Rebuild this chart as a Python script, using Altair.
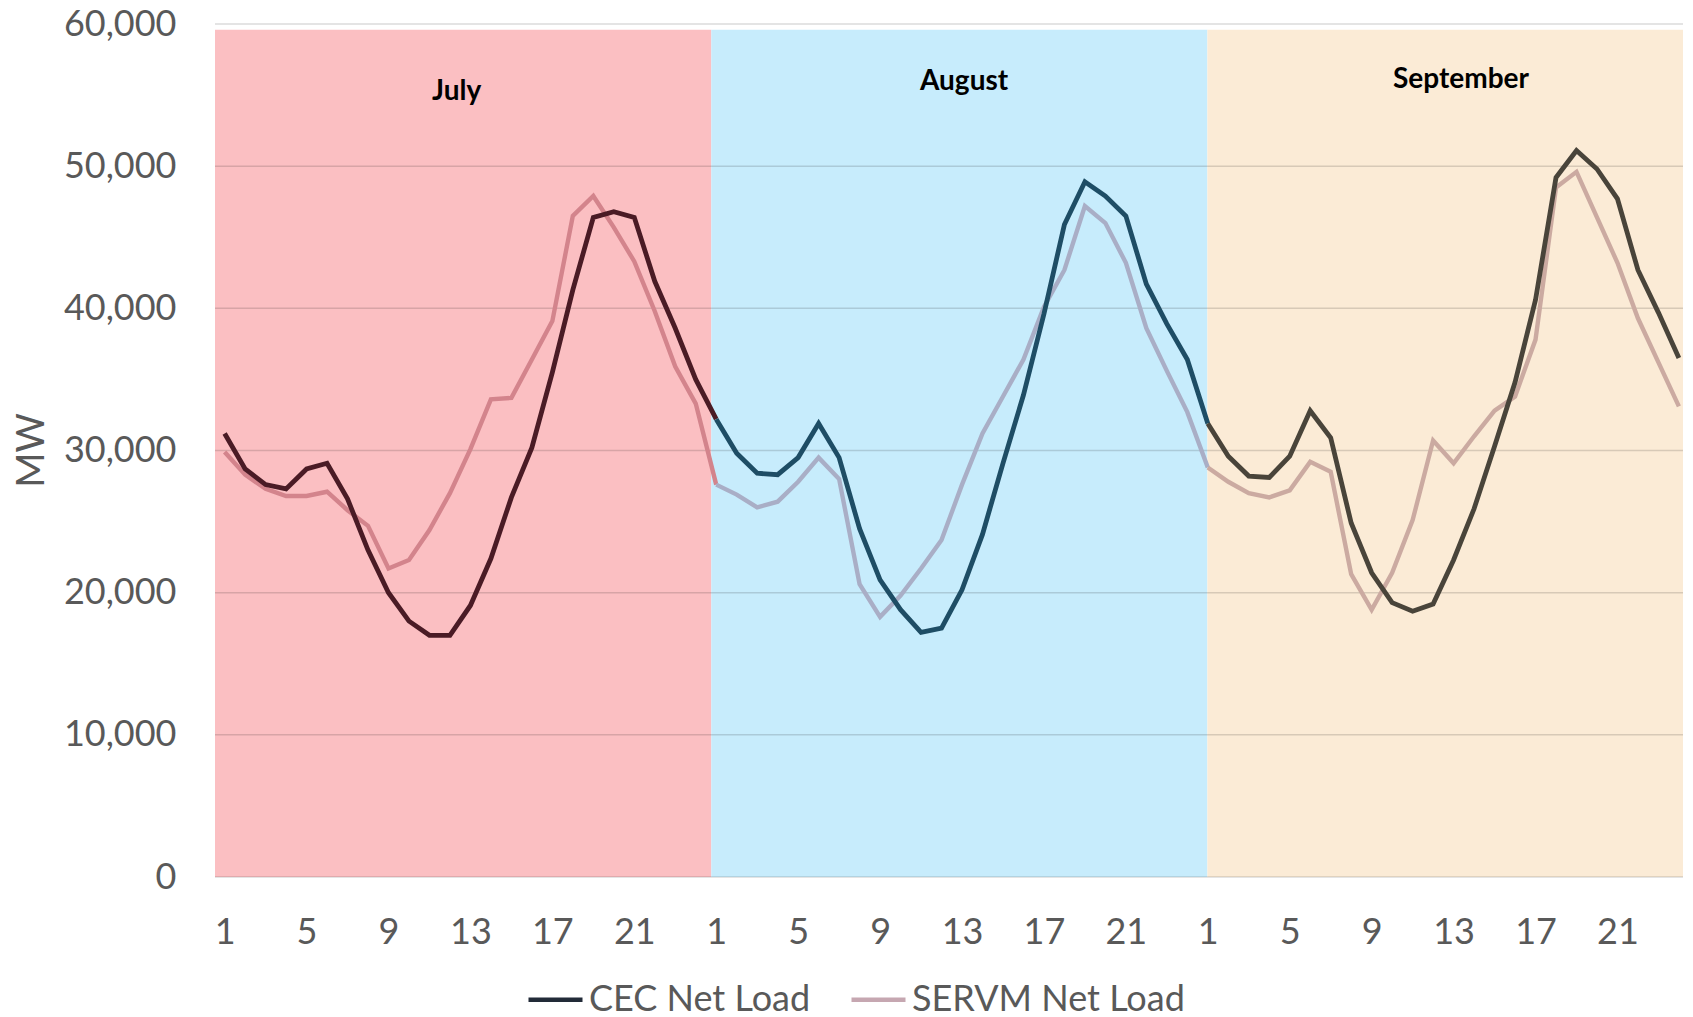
import altair as alt
import pandas as pd

# ---------------- data ----------------
months = ["July", "August", "September"]

cec_july = [31200, 28700, 27600, 27300, 28700, 29100, 26600, 23000, 20000, 18000, 17000, 17000,
            19100, 22400, 26700, 30200, 35500, 41300, 46400, 46800, 46400, 41900, 38600, 35000]
cec_aug = [32200, 29800, 28400, 28300, 29500, 31900, 29500, 24500, 20900, 18800, 17200, 17500,
           20200, 24100, 29100, 33900, 39600, 45900, 48900, 47900, 46500, 41700, 38900, 36400]
cec_sep = [31900, 29600, 28200, 28100, 29600, 32800, 30900, 24900, 21400, 19300, 18700, 19200,
           22300, 25900, 30300, 34800, 40600, 49200, 51100, 49800, 47700, 42700, 39700, 36500]

servm_july = [29900, 28300, 27300, 26800, 26800, 27100, 25800, 24700, 21700, 22300, 24400, 27000,
              30100, 33600, 33700, 36400, 39100, 46500, 47900, 45700, 43300, 39800, 35900, 33300]
servm_aug = [27600, 26900, 26000, 26400, 27800, 29500, 28000, 20600, 18300, 19800, 21700, 23700,
             27600, 31200, 33800, 36400, 40100, 42700, 47200, 46000, 43200, 38600, 35600, 32700]
servm_sep = [28800, 27800, 27000, 26700, 27200, 29200, 28500, 21300, 18800, 21400, 25100, 30700,
             29100, 31000, 32800, 33800, 37800, 48500, 49600, 46400, 43200, 39300, 36200, 33100]

series_names = ["CEC Net Load", "SERVM Net Load"]

# background month bands (x in hour-index units, y in MW)
band_edges = [-0.47, 23.76, 47.98, 72.2]
band_top = 59600
band_colors = ["#fbbfc2", "#c7ecfc", "#fbebd6"]

cec_colors = ["#4a1b25", "#1e4d65", "#49443a"]
servm_colors = ["#d3848c", "#a9aec6", "#cbaaa1"]
legend_colors = ["#222b38", "#c6a7b1"]

month_label_x = [11.33, 36.1, 60.36]
month_label_y = [55200, 55890, 56040]

y_ticks = [0, 10000, 20000, 30000, 40000, 50000, 60000]
x_ticks = list(range(0, 72, 4))

FONT = "Lato"
GREY = "#595959"

# ---------------- build tables ----------------
series_data = {
    "CEC Net Load": [cec_july, cec_aug, cec_sep],
    "SERVM Net Load": [servm_july, servm_aug, servm_sep],
}

rows = []
for s in series_names:
    vals = series_data[s]
    for m_idx, m in enumerate(months):
        key = f"{s} | {m}"
        for h, v in enumerate(vals[m_idx]):
            rows.append({"i": m_idx * 24 + h, "v": v, "key": key, "series": s})
        if m_idx < len(months) - 1:
            rows.append({"i": (m_idx + 1) * 24, "v": vals[m_idx + 1][0], "key": key, "series": s})
lines_df = pd.DataFrame(rows)

line_keys = [f"{s} | {m}" for s in series_names for m in months]
line_colors = cec_colors + servm_colors

bands_df = pd.DataFrame({
    "month": months,
    "x0": band_edges[:-1],
    "x1": band_edges[1:],
    "y0": [0] * 3,
    "y1": [band_top] * 3,
})

labels_df = pd.DataFrame({"month": months, "x": month_label_x, "y": month_label_y})
grid_df = pd.DataFrame({"y": y_ticks})
legend_df = pd.DataFrame({"series": series_names})

# ---------------- scales / axes ----------------
x_scale = alt.Scale(domain=[-0.47, 71.2], nice=False, zero=False)
y_scale = alt.Scale(domain=[0, 60000], nice=False)

x_axis = alt.Axis(values=x_ticks, labelExpr="'' + ((datum.value % 24) + 1)", domain=False,
                  ticks=False, grid=False, labelFontSize=36, labelFont=FONT, labelColor=GREY,
                  labelPadding=38, title=None, labelFlush=False)
y_axis = alt.Axis(values=y_ticks, format=",d", domain=False, ticks=False, grid=False,
                  labelFontSize=36, labelFont=FONT, labelColor=GREY, labelPadding=39,
                  title="MW", titleFontSize=38, titleFont=FONT, titleFontWeight="normal",
                  titleColor=GREY, titleX=-183, titleY=426, titleAlign="center",
                  titleBaseline="middle")

bands = alt.Chart(bands_df).mark_rect(clip=True).encode(
    x=alt.X("x0:Q", scale=x_scale, axis=x_axis),
    x2="x1:Q",
    y=alt.Y("y0:Q", scale=y_scale, axis=y_axis),
    y2="y1:Q",
    color=alt.Color("month:N", scale=alt.Scale(domain=months, range=band_colors), legend=None),
)

grid = alt.Chart(grid_df).mark_rule(color="black", opacity=0.14, strokeWidth=1.5).encode(
    y=alt.Y("y:Q", scale=y_scale, axis=y_axis)
)

def line_layer(series, width):
    return alt.Chart(lines_df).transform_filter(
        alt.datum.series == series
    ).mark_line(strokeWidth=width, clip=True).encode(
        x=alt.X("i:Q", scale=x_scale, axis=x_axis),
        y=alt.Y("v:Q", scale=y_scale, axis=y_axis),
        color=alt.Color("key:N", scale=alt.Scale(domain=line_keys, range=line_colors), legend=None),
        detail="key:N",
        order="i:Q",
    )

servm_lines = line_layer("SERVM Net Load", 4.4)
cec_lines = line_layer("CEC Net Load", 4.8)

month_text = alt.Chart(labels_df).mark_text(
    font=FONT, fontSize=28, fontWeight="bold", color="black", baseline="middle", align="center"
).encode(
    x=alt.X("x:Q", scale=x_scale, axis=x_axis),
    y=alt.Y("y:Q", scale=y_scale, axis=y_axis),
    text="month:N",
)

legend_layer = alt.Chart(legend_df).mark_line().encode(
    x=alt.value(0),
    y=alt.value(0),
    color=alt.Color(
        "series:N",
        scale=alt.Scale(domain=series_names, range=legend_colors),
        legend=alt.Legend(orient="none", legendX=311, legendY=946, direction="horizontal",
                          symbolType="stroke", symbolSize=2916, symbolStrokeWidth=4.5,
                          symbolOpacity=1, labelFontSize=36, labelFont=FONT, labelColor=GREY,
                          labelOffset=4, columnPadding=31, labelLimit=0, title=None),
    ),
)

chart = alt.layer(bands, grid, servm_lines, cec_lines, month_text, legend_layer).resolve_scale(
    color="independent"
).properties(
    width=1468,
    height=853,
    autosize=alt.AutoSizeParams(type="none"),
    padding={"left": 207, "top": 16, "right": 2, "bottom": 136},
    background="white",
).configure_view(stroke=None)

chart.save("out.html", embed_options={"renderer": "svg", "actions": False})
